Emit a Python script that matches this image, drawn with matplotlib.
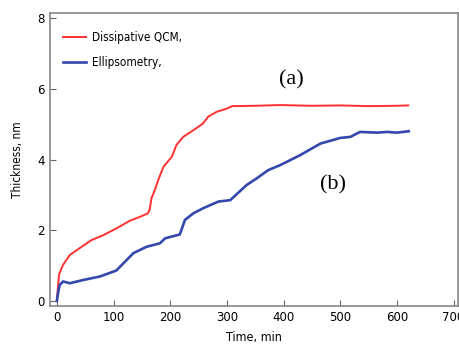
import matplotlib
matplotlib.use('Agg')
from matplotlib import pyplot as plt

# red curve: dissipative QCM
t_qcm = [0, 2, 4, 11, 23, 41, 61, 82, 105, 129, 150, 161, 164, 167, 173, 179, 188, 203, 211,
         223, 241, 258, 267, 282, 300, 309, 350, 394, 450, 500, 550, 600, 620]
h_qcm = [0, 0.4, 0.75, 1.02, 1.3, 1.5, 1.72, 1.86, 2.05, 2.27, 2.4, 2.48, 2.6, 2.9, 3.14, 3.42,
         3.79, 4.08, 4.41, 4.64, 4.83, 5.02, 5.21, 5.35, 5.44, 5.51, 5.52, 5.54, 5.52, 5.53,
         5.51, 5.52, 5.53]

# blue curve: ellipsometry
t_ell = [0, 3, 5, 11, 23, 46, 76, 105, 135, 158, 182, 191, 217, 226, 241, 258, 285, 306, 335,
         353, 373, 394, 429, 465, 500, 518, 535, 565, 583, 600, 621]
h_ell = [0, 0.3, 0.45, 0.55, 0.5, 0.59, 0.69, 0.86, 1.35, 1.53, 1.63, 1.77, 1.88, 2.29, 2.48,
         2.62, 2.81, 2.85, 3.28, 3.47, 3.7, 3.84, 4.12, 4.45, 4.61, 4.64, 4.78, 4.76, 4.78,
         4.76, 4.8]

xticks = [0, 100, 200, 300, 400, 500, 600, 700]
yticks = [0, 2, 4, 6, 8]

fnt = ['DejaVu Sans']

fig = plt.figure(figsize=(4.59, 3.46), dpi=100)
ax = fig.add_axes([0.109, 0.116, 0.889, 0.846])

ax.plot(t_qcm, h_qcm, color='#ff3030', lw=1.4, label='Dissipative QCM,')
ax.plot(t_ell, h_ell, color='#3347ad', lw=1.9, label='Ellipsometry,')

ax.set_xlim(-12, 708)
ax.set_ylim(-0.14, 8.14)
ax.set_xticks(xticks)
ax.set_yticks(yticks)
for s in ax.spines.values():
    s.set_color('#888888')
    s.set_linewidth(1.2)
ax.tick_params(direction='in', length=4, color='#666666', labelsize=8.5, pad=4)
for lab in ax.get_xticklabels() + ax.get_yticklabels():
    lab.set_family(fnt)
    lab.set_stretch('semi-condensed')

ax.set_xlabel('Time, min', family=fnt, fontsize=9, labelpad=5, fontstretch='condensed')
ax.set_ylabel('Thickness, nm', family=fnt, fontsize=8.5, labelpad=9, fontstretch='condensed')

ax.text(413, 6.24, '(a)', family=['Liberation Serif', 'DejaVu Serif'], fontsize=16,
        ha='center', va='center')
ax.text(488, 3.28, '(b)', family=['Liberation Serif', 'DejaVu Serif'], fontsize=16,
        ha='center', va='center')

ax.legend(loc='upper left', frameon=False,
          prop={'family': fnt, 'size': 8.5, 'stretch': 'condensed'},
          handlelength=2.0, handletextpad=0.5, labelspacing=1.0,
          bbox_to_anchor=(0.005, 0.975))

fig.savefig('out.png', dpi=100)
